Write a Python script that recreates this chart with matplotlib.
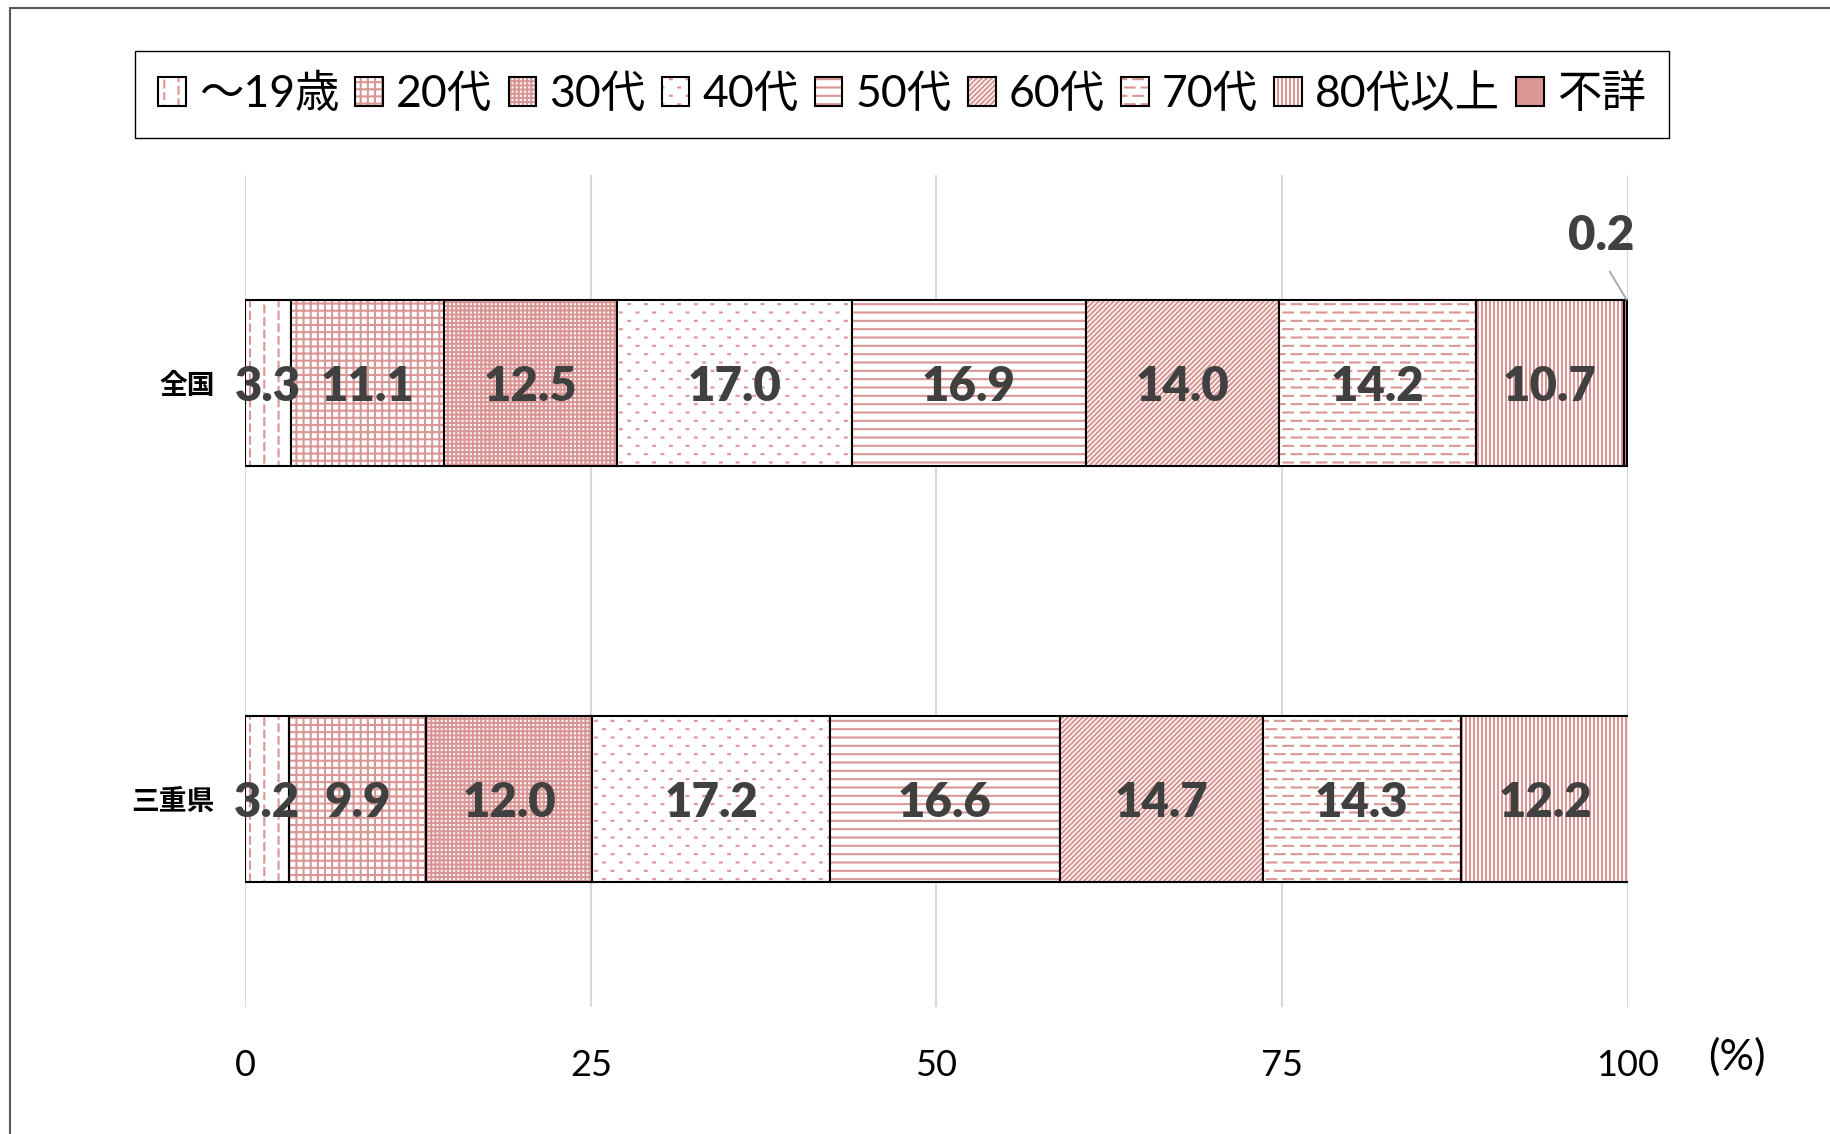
import warnings
warnings.filterwarnings("ignore")
import numpy as np
import matplotlib
matplotlib.use("Agg")
import matplotlib.pyplot as plt
import matplotlib.hatch as mhatch
from matplotlib.path import Path
from matplotlib.patches import Rectangle
from matplotlib.colors import to_rgba

# ---------------- data ----------------
age_groups = ["〜19歳", "20代", "30代", "40代", "50代", "60代", "70代", "80代以上", "不詳"]
regions = ["全国", "三重県"]
values_zenkoku = [3.3, 11.1, 12.5, 17.0, 16.9, 14.0, 14.2, 10.7, 0.2]
values_mie = [3.2, 9.9, 12.0, 17.2, 16.6, 14.7, 14.3, 12.2, 0.0]
x_ticks = [0, 25, 50, 75, 100]

# ---------------- custom hatch patterns (style only) ----------------
mhatch._validate_hatch_pattern = lambda h: None


def register_hatch(char, segs):
    segs = np.asarray(segs, float).reshape(-1, 2, 2)

    class _H(mhatch.HatchPatternBase):
        def __init__(self, hatch, density):
            self.on = hatch is not None and char in hatch
            self.num_vertices = 2 * len(segs) if self.on else 0

        def set_vertices_and_codes(self, vertices, codes):
            vertices[0::2] = segs[:, 0]
            vertices[1::2] = segs[:, 1]
            codes[0::2] = Path.MOVETO
            codes[1::2] = Path.LINETO

    mhatch._hatch_types.append(_H)


def vlines(n):
    return [((x, 0), (x, 1)) for x in (np.arange(n) + 0.5) / n]


def hlines(n):
    return [((0, y), (1, y)) for y in (np.arange(n) + 0.5) / n]


def vdashes(ncol, nper, frac):
    s = []
    for i in range(ncol):
        x = (i + 0.5) / ncol
        off = 0.5 / nper if i % 2 else 0.0
        for k in range(nper):
            y0 = k / nper + off
            y1 = y0 + frac / nper
            if y1 <= 1:
                s.append(((x, y0), (x, y1)))
            else:
                s.append(((x, y0), (x, 1.0)))
                s.append(((x, 0.0), (x, y1 - 1)))
    return s


def hdashes(nrow, nper, frac):
    return [((a[1], a[0]), (b[1], b[0])) for a, b in vdashes(nrow, nper, frac)]


def dots(nrow, nper, size):
    s = []
    for j in range(nrow):
        y = (j + 0.5) / nrow
        off = 0.5 / nper if j % 2 else 0.0
        for k in range(nper):
            x = (k + 0.25) / nper + off
            s.append(((x - size / 2, y), (x + size / 2, y)))
    return s


def diag(n):
    s = []
    for k in range(-n + 1, n):
        c = k / n
        p0 = (max(0.0, -c), max(0.0, c))
        p1 = (min(1.0, 1 - c), min(1.0, 1 + c))
        s.append((p0, p1))
    return s


register_hatch("a", vdashes(7, 8, 0.55))          # 〜19歳
register_hatch("b", vlines(14) + hlines(14))      # 20代
register_hatch("c", vlines(24) + hlines(24))      # 30代
register_hatch("d", dots(12, 6, 0.018))           # 40代
register_hatch("e", hlines(12))                   # 50代
register_hatch("f", diag(20))                     # 60代
register_hatch("g", hdashes(12, 6, 0.58))         # 70代
register_hatch("i", vlines(25))                   # 80代以上

hatches = ["a", "b", "c", "d", "e", "f", "g", "i", None]
pink = "#D99694"

plt.rcParams["hatch.linewidth"] = 1.5
num_font = ["Lato", "Noto Sans CJK JP", "DejaVu Sans"]
cjk_font = ["Noto Sans CJK JP", "DejaVu Sans"]
plt.rcParams["font.family"] = num_font

# ---------------- figure ----------------
W, H = 1831, 1134
fig = plt.figure(figsize=(W / 100, H / 100), dpi=100)
ax = fig.add_axes([245 / W, 1 - 1007 / H, (1628 - 245) / W, 832 / H])

ypos = [1, 0]
data = np.array([values_zenkoku, values_mie])
left = np.zeros(2)
bar_h = 0.40
for i, grp in enumerate(age_groups):
    vals = data[:, i]
    fc = pink if hatches[i] is None else "white"
    bars = ax.barh(ypos, vals, left=left, height=bar_h, color=fc,
                   edgecolor="black", linewidth=1.5, hatch=hatches[i],
                   label=grp, zorder=2)
    for b in bars:
        b._hatch_color = to_rgba(pink)
    for yy, v, l in zip(ypos, vals, left):
        if v >= 1:
            ax.text(l + v / 2, yy - 0.01, f"{v:.1f}", ha="center", va="center",
                    fontsize=34, fontweight="heavy", color="#404040",
                    family=num_font, zorder=3)
    left = left + vals

# small value annotation (不詳 in 全国)
v_small = values_zenkoku[-1]
end_x = sum(values_zenkoku)
ax.annotate(f"{v_small:.1f}", xy=(end_x, ypos[0] + bar_h / 2),
            xytext=(-18, 46), textcoords="offset points",
            ha="center", va="center", fontsize=34, fontweight="heavy",
            color="#404040", family=num_font,
            arrowprops=dict(arrowstyle="-", color="#A6A6A6", lw=1.3,
                            relpos=(0.5, 0.0), shrinkA=9, shrinkB=0))

ax.set_xlim(0, 100)
ax.set_ylim(-0.5, 1.5)
ax.set_xticks(x_ticks)
ax.set_xticklabels([str(t) for t in x_ticks], fontsize=26, family=num_font)
ax.set_yticks(ypos)
ax.set_yticklabels(regions, fontsize=20, fontweight="bold", family=cjk_font)
ax.tick_params(axis="x", length=0, pad=30)
ax.tick_params(axis="y", length=0, pad=22)
for s in ax.spines.values():
    s.set_visible(False)
ax.grid(axis="x", color="#D9D9D9", linewidth=1.5)
ax.set_axisbelow(True)

fig.text(1737 / W, 1 - 1057 / H, "(%)", ha="center", va="center",
         fontsize=31, family=num_font)

# legend
leg = fig.legend(loc="center", bbox_to_anchor=(902 / W, 1 - 94.5 / H),
                 ncol=9, prop={"family": num_font, "size": 32},
                 handlelength=0.62, handleheight=0.62, handletextpad=0.3,
                 columnspacing=0.36, borderpad=0.52, borderaxespad=0,
                 frameon=True, fancybox=False, edgecolor="black",
                 framealpha=1)
leg.get_frame().set_linewidth(1.0)

# chart area border
fig.patches.append(Rectangle((10 / W, -0.1), 1.2, 1.1 - 8 / H,
                             transform=fig.transFigure, fill=False,
                             edgecolor="#595959", linewidth=1.5,
                             clip_on=False))

fig.savefig("out.png", dpi=100)
